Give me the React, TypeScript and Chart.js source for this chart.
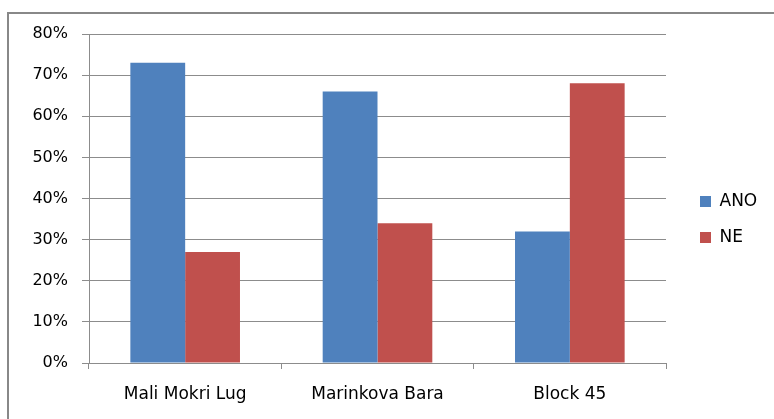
import React, { useEffect, useRef } from "react";
import { Chart, registerables } from "chart.js";

Chart.register(...registerables);

const categories = ["Mali Mokri Lug", "Marinkova Bara", "Block 45"];
const seriesNames = ["ANO", "NE"];
const anoValues = [73, 66, 32];
const neValues = [27, 34, 68];
const yTickValues = [0, 10, 20, 30, 40, 50, 60, 70, 80];

const FONT = "'DejaVu Sans', sans-serif";
const GRID = "#8c8c8c";

const borderPlugin = {
  id: "outerBorder",
  beforeDraw(chart: any) {
    const ctx = chart.ctx;
    ctx.save();
    ctx.fillStyle = "#ffffff";
    ctx.fillRect(0, 0, chart.width, chart.height);
    ctx.strokeStyle = "#888888";
    ctx.lineWidth = 2;
    ctx.strokeRect(8, 13, chart.width + 20, chart.height + 20);
    ctx.restore();
  },
};

const legendPlace = {
  id: "legendPlace",
  beforeLayout(chart: any) {
    const lg = chart.legend;
    if (!lg || lg._patched) return;
    const orig = lg.fit.bind(lg);
    lg.fit = function () {
      orig();
      if (!this.isHorizontal()) this.width = 108;
    };
    lg._patched = true;
  },
  afterLayout(chart: any) {
    const lg = chart.legend;
    if (!lg) return;
    const pad = lg.options.labels.padding;
    const w = lg.width;
    lg.left = 700 - pad;
    lg.right = lg.left + w;
    const colH = lg.columnSizes && lg.columnSizes[0] ? lg.columnSizes[0].height : 72;
    const H = 250;
    const desiredY = 193;
    lg.top = desiredY - (pad + H - colH) / 2;
    lg.bottom = lg.top + H;
  },
};

export default function App() {
  const ref = useRef<HTMLCanvasElement | null>(null);
  useEffect(() => {
    if (!ref.current) return;
    const chart = new Chart(ref.current, {
      type: "bar",
      data: {
        labels: categories,
        datasets: [
          { label: seriesNames[0], data: anoValues, backgroundColor: "#4f81bd", borderWidth: 0 },
          { label: seriesNames[1], data: neValues, backgroundColor: "#c0504d", borderWidth: 0 },
        ],
      },
      options: {
        responsive: false,
        animation: false,
        layout: { padding: { left: 0, top: 34, right: 0, bottom: 0 } },
        datasets: { bar: { categoryPercentage: 0.57, barPercentage: 1 } },
        plugins: {
          legend: {
            position: "right",
            labels: {
              boxWidth: 11,
              boxHeight: 11,
              padding: 19,
              color: "#000",
              font: { family: FONT, size: 17 },
            },
          },
          tooltip: { enabled: false },
        },
        scales: {
          x: {
            afterFit(scale: any) {
              scale.height = 56;
            },
            grid: {
              offset: true,
              drawOnChartArea: false,
              drawTicks: true,
              tickLength: 6,
              color: GRID,
            },
            border: { color: GRID, width: 1 },
            ticks: { color: "#000", padding: 15, font: { family: FONT, size: 17 } },
          },
          y: {
            min: 0,
            max: 80,
            afterFit(scale: any) {
              scale.width = 89;
            },
            afterBuildTicks(scale: any) {
              scale.ticks = yTickValues.map((v) => ({ value: v }));
            },
            grid: { color: GRID, tickLength: 7, drawTicks: true },
            border: { color: GRID, width: 1 },
            ticks: {
              color: "#000",
              padding: 14,
              font: { family: FONT, size: 16 },
              callback: (v: any) => v + "%",
            },
          },
        },
      },
      plugins: [borderPlugin, legendPlace],
    });
    return () => chart.destroy();
  }, []);
  return (
    <div style={{ position: "absolute", left: 0, top: 0, width: 774, height: 419 }}>
      <canvas ref={ref} width={774} height={419} />
    </div>
  );
}
